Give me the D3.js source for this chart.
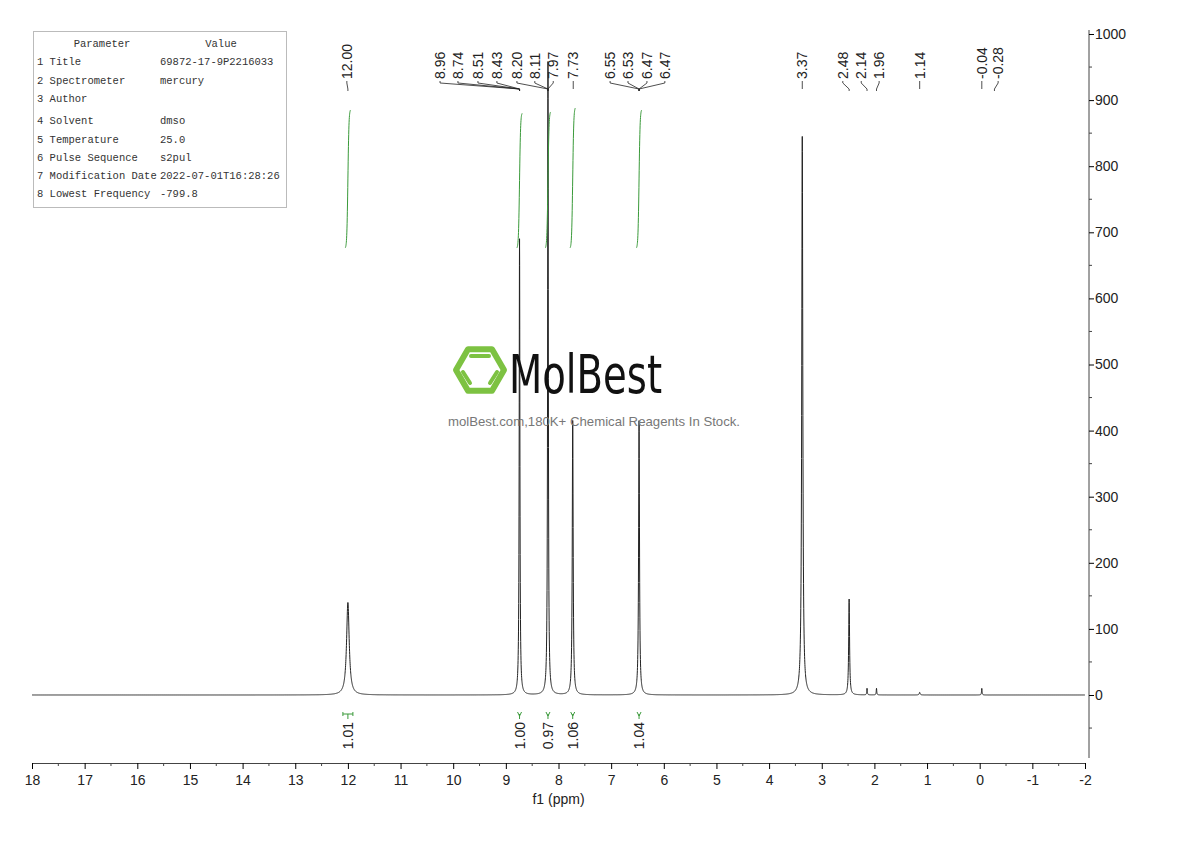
<!DOCTYPE html>
<html><head><meta charset="utf-8">
<script src="https://cdn.jsdelivr.net/npm/d3@7"></script>
<style>body{margin:0;background:#fff}svg{display:block}</style>
</head><body>
<script>
// Peak list (ppm, height, half-width ppm)
const peakPpm    = [12.00, 8.74, 8.20, 7.73, 6.47, 3.37, 2.48, 2.14, 1.96, 1.14, -0.04];
const peakHeight = [140,   690,  958,  415,  415,  845,  145,  10,   10,   4,    10];
const peakWidth  = [0.03,  0.008,0.008,0.01, 0.01, 0.012,0.01, 0.006,0.006,0.01, 0.006];
// Peak labels (top)
const labelText = ["12.00","8.96","8.74","8.51","8.43","8.20","8.11","7.97","7.73","6.55","6.53","6.47","6.47","3.37","2.48","2.14","1.96","1.14","-0.04","-0.28"];
const labelPos  = [12.02, 10.25, 9.91, 9.53, 9.17, 8.79, 8.45, 8.10, 7.72, 7.02, 6.68, 6.32, 5.98, 3.37, 2.60, 2.25, 1.91, 1.14, -0.04, -0.35];
const labelPeak = [12.00, 8.74, 8.74, 8.74, 8.74, 8.20, 8.20, 8.20, 7.73, 6.47, 6.47, 6.47, 6.47, 3.37, 2.48, 2.14, 1.96, 1.14, -0.04, -0.28];
// Integrals
const integPpm   = [12.00, 8.74, 8.20, 7.73, 6.47];
const integValue = ["1.01","1.00","0.97","1.06","1.04"];
const integTop   = [885, 880, 882, 888, 885];
const integBot   = [675, 675, 675, 675, 675];
const xTicks = d3.range(18, -2.5, -1);
const yTicks = d3.range(0, 1001, 100);
const paramNames  = ["Parameter","1 Title","2 Spectrometer","3 Author","4 Solvent","5 Temperature","6 Pulse Sequence","7 Modification Date","8 Lowest Frequency"];
const paramValues = ["Value","69872-17-9P2216033","mercury","","dmso","25.0","s2pul","2022-07-01T16:28:26","-799.8"];

const W=1190,H=841;
const svg=d3.select("body").append("svg").attr("width",W).attr("height",H);
const x=d3.scaleLinear().domain([18,-2]).range([32,1085]);
const y=d3.scaleLinear().domain([0,1000]).range([695,34]);
const font="'Liberation Sans',Arial,sans-serif";
const fmt=d=>String(d);

// Spectrum
const pts=[];
for(let p=18;p>=-2;p-=0.002){
  let v=0;
  peakPpm.forEach((c,i)=>{const w=peakWidth[i];v+=peakHeight[i]*w*w/((p-c)*(p-c)+w*w);});
  pts.push([p,v]);
}
svg.append("path").datum(pts).attr("fill","none").attr("stroke","#222").attr("stroke-width",1)
  .attr("d",d3.line().x(d=>x(d[0])).y(d=>y(d[1])));

// Integral curves
integPpm.forEach((c,i)=>{
  const seg=d3.range(0,41).map(k=>{const t=k/40;return [c+0.05-0.1*t, integBot[i]+(integTop[i]-integBot[i])*(0.5+0.5*Math.tanh((t-0.5)*5))/ (0.5+0.5*Math.tanh(2.5))];});
  svg.append("path").datum(seg).attr("fill","none").attr("stroke","#3a9a3a").attr("stroke-width",1)
   .attr("d",d3.line().x(d=>x(d[0])).y(d=>y(d[1])));
  const cx=x(c);
  const g=svg.append("g").attr("stroke","#3a9a3a").attr("fill","none");
  if(i==0){g.append("path").attr("d",`M${cx-5},714H${cx+5}M${cx-5},712V716M${cx+5},712V716M${cx},714V719`);}
  else {g.append("path").attr("d",`M${cx-2},712L${cx},716L${cx+2},712M${cx},714V719`);}
  svg.append("text").attr("transform",`translate(${cx+5},722) rotate(-90)`).attr("text-anchor","end")
   .attr("font-family",font).attr("font-size",14).attr("fill","#222").text(integValue[i]);
});

// Top labels
labelText.forEach((t,i)=>{
  const lx=x(labelPos[i]), px=x(labelPeak[i]);
  svg.append("text").attr("transform",`translate(${lx+5},79) rotate(-90)`).attr("text-anchor","start")
   .attr("font-family",font).attr("font-size",14).attr("fill","#222").text(t);
  svg.append("path").attr("fill","none").attr("stroke","#222").attr("stroke-width",0.8)
   .attr("d",Math.abs(lx-px)<1?`M${lx},81V89`:`M${lx},81V83L${px},89V91`);
});

// Bottom axis
const xa=svg.append("g").attr("transform","translate(0,763)")
 .call(d3.axisBottom(x).tickValues(xTicks).tickFormat(fmt).tickSize(6).tickSizeOuter(0));
xa.selectAll("text").attr("font-family",font).attr("font-size",14).attr("fill","#222").attr("dy","0.9em");
xa.select(".domain").attr("stroke","#444");
svg.append("g").selectAll("line").data(d3.range(17.5,-2,-1)).join("line")
 .attr("x1",d=>x(d)).attr("x2",d=>x(d)).attr("y1",763).attr("y2",766).attr("stroke","#444");
svg.append("text").attr("x",x(8)).attr("y",804).attr("text-anchor","middle").attr("font-family",font).attr("font-size",14).attr("fill","#222").text("f1 (ppm)");

// Right axis
const ya=svg.append("g").attr("transform","translate(1089,0)")
 .call(d3.axisRight(y).tickValues(yTicks).tickFormat(fmt).tickSize(5).tickSizeOuter(0));
ya.select(".domain").attr("d","M0,30V758").attr("stroke","#444");
ya.selectAll("text").attr("font-family",font).attr("font-size",14).attr("fill","#222").attr("x",6);
svg.append("g").selectAll("line").data(d3.range(-50,1001,100)).join("line")
 .attr("x1",1089).attr("x2",1092).attr("y1",d=>y(d)).attr("y2",d=>y(d)).attr("stroke","#444");

// Parameter table
svg.append("rect").attr("x",33.5).attr("y",31.5).attr("width",253).attr("height",176).attr("fill","#fff").attr("stroke","#bbb");
const mono="'Liberation Mono','DejaVu Sans Mono',monospace";
paramNames.forEach((n,i)=>{
  const yy= i==0?47: (i<4? 47+i*18.3 : 52+i*18.1);
  svg.append("text").attr("x",i==0?102:37).attr("y",yy).attr("text-anchor",i==0?"middle":"start").attr("font-family",mono).attr("font-size",10.5).attr("fill","#333").text(n);
  svg.append("text").attr("x",i==0?221:160).attr("y",yy).attr("text-anchor",i==0?"middle":"start").attr("font-family",mono).attr("font-size",10.5).attr("fill","#333").text(paramValues[i]);
});

// Watermark
const wm=svg.append("g");
const hx=480,hy=370,r=24;
const hex=d3.range(6).map(k=>[hx+r*Math.cos(k*Math.PI/3),hy+r*Math.sin(k*Math.PI/3)]);
wm.append("polygon").attr("points",hex.map(p=>p.join(",")).join(" ")).attr("fill","none").attr("stroke","#7dc242").attr("stroke-width",6).attr("stroke-linejoin","round");
wm.append("path").attr("d",`M${hx-9},${hy-14}H${hx+9}M${hx-17},${hy+2}L${hx-10},${hy+13}M${hx+17},${hy+2}L${hx+10},${hy+13}`).attr("stroke","#7dc242").attr("stroke-width",4).attr("stroke-linecap","round");
wm.append("text").attr("x",509).attr("y",393).attr("font-family","'DejaVu Sans Condensed','Liberation Sans Narrow',sans-serif").attr("font-size",54).attr("textLength",153).attr("lengthAdjust","spacingAndGlyphs").attr("fill","#111").text("MolBest");
wm.append("text").attr("x",594).attr("y",426).attr("text-anchor","middle").attr("font-family",font).attr("font-size",13.2).attr("fill","#777").text("molBest.com,180K+ Chemical Reagents In Stock.");
</script>
</body></html>
